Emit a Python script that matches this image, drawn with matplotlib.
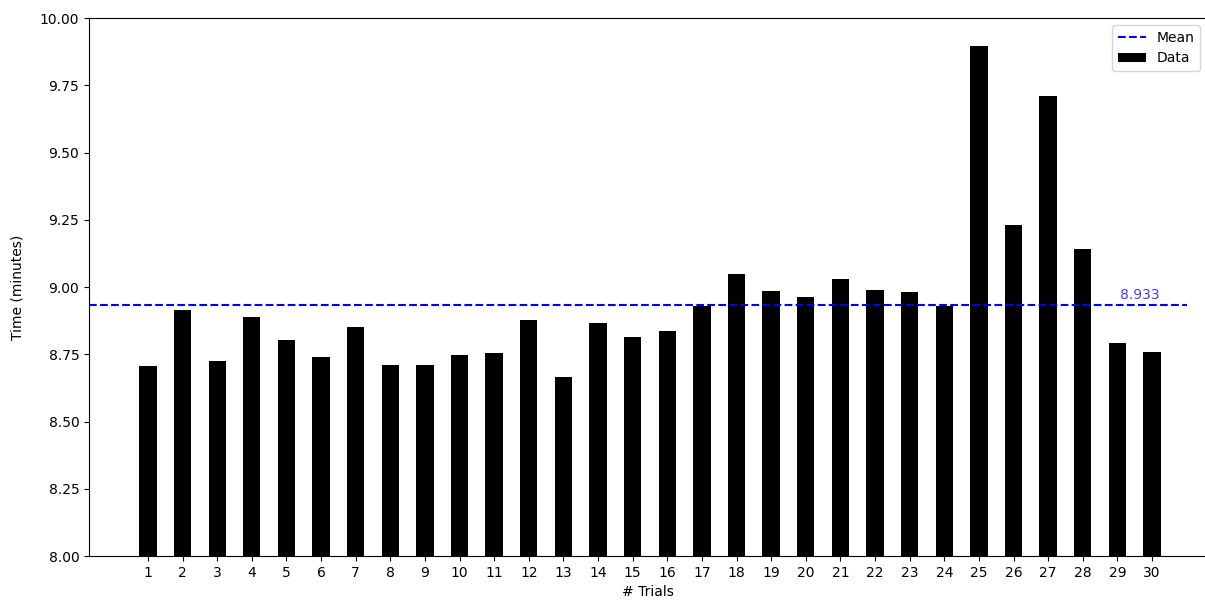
import numpy as np
import matplotlib.pyplot as plt

# time per trial, in minutes
trials = list(range(1, 31))
times = [8.706, 8.914, 8.726, 8.890, 8.802, 8.739, 8.852, 8.709, 8.709, 8.746,
         8.756, 8.878, 8.667, 8.866, 8.813, 8.835, 8.930, 9.050, 8.985, 8.962,
         9.030, 8.990, 8.980, 8.930, 9.895, 9.230, 9.710, 9.140, 8.791, 8.757]
y_ticks = [8.00, 8.25, 8.50, 8.75, 9.00, 9.25, 9.50, 9.75, 10.00]

mean_time = np.mean(times)

fig = plt.figure(figsize=(12.05, 6.03), dpi=100)
ax = fig.add_axes([0.0739, 0.0779, 0.9278, 0.8922])

ax.bar(trials, times, width=0.5, color='black', label='Data')
ax.plot([-0.7, 31], [mean_time, mean_time], '--', color='blue', label='Mean')
ax.text(29.65, mean_time + 0.01, f'{mean_time:.3f}', color='blue', alpha=0.75,
        ha='center', va='bottom')

ax.set_xlim(-0.7, 31.59)
ax.set_ylim(8, 10)
ax.set_xticks(trials)
ax.set_yticks(y_ticks)
ax.set_yticklabels([f'{t:.2f}' for t in y_ticks])
ax.set_xlabel('# Trials')
ax.set_ylabel('Time (minutes)', labelpad=11)

ax.legend(loc='upper right')

fig.savefig('out.png', dpi=100)
